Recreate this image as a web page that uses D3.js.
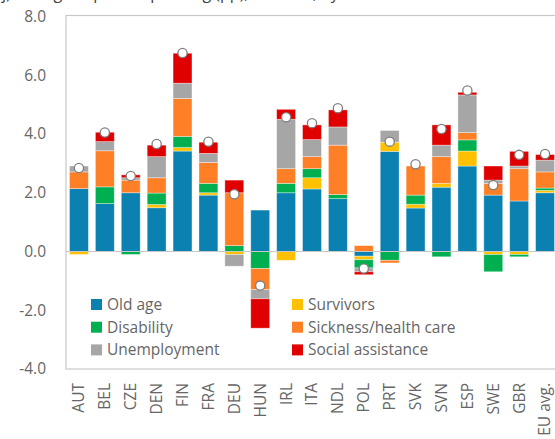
<!DOCTYPE html>
<html>
<head>
<meta charset="utf-8">
<script src="https://cdn.jsdelivr.net/npm/d3@7"></script>
<style>
  body { margin: 0; background: #fff; }
  svg { display: block; font-family: "Open Sans", sans-serif; }
</style>
</head>
<body>
<div id="container"></div>
<script>
const width = 555,
  height = 439,
  margin = {top: 16.5, bottom: 70, left: 66, right: -3};

// categories
const countries = ["AUT","BEL","CZE","DEN","FIN","FRA","DEU","HUN","IRL","ITA","NDL","POL","PRT","SVK","SVN","ESP","SWE","GBR","EU avg."];

// series values, percentage points
const oldAge     = [2.14, 1.63, 2.00, 1.49, 3.42, 1.92, 0.00, 1.41, 2.00, 2.13, 1.80, -0.16, 3.41, 1.48, 2.19, 2.91, 1.92, 1.72, 2.00];
const survivors  = [-0.10, 0.00, 0.00, 0.11, 0.12, 0.08, -0.10, 0.00, -0.30, 0.38, 0.00, -0.12, 0.31, 0.13, 0.13, 0.51, -0.10, -0.10, 0.08];
const disability = [0.00, 0.57, -0.10, 0.39, 0.38, 0.32, 0.20, -0.58, 0.32, 0.31, 0.14, -0.28, -0.30, 0.31, -0.18, 0.38, -0.59, -0.08, 0.08];
const sickness   = [0.57, 1.23, 0.43, 0.52, 1.29, 0.71, 1.80, -0.72, 0.50, 0.41, 1.68, 0.20, -0.09, 0.99, 0.91, 0.25, 0.40, 1.10, 0.55];
const unemploy   = [0.20, 0.31, 0.08, 0.72, 0.52, 0.31, -0.40, -0.31, 1.68, 0.58, 0.62, -0.13, 0.40, 0.00, 0.39, 1.28, 0.11, 0.09, 0.40];
const socialAss  = [0.00, 0.32, 0.10, 0.39, 1.02, 0.38, 0.43, -1.00, 0.34, 0.50, 0.58, -0.10, 0.00, 0.00, 0.69, 0.09, 0.48, 0.50, 0.19];
// total change (white markers)
const totals     = [2.84, 4.05, 2.57, 3.66, 6.76, 3.74, 1.95, -1.16, 4.57, 4.37, 4.88, -0.58, 3.74, 2.97, 4.17, 5.48, 2.26, 3.29, 3.32];

const seriesNames = ["Old age","Survivors","Disability","Sickness/health care","Unemployment","Social assistance"];
const seriesColors = ["#0b81b1","#ffc000","#00b050","#ff7f27","#a6a6a6","#e00000"];
const yTicks = [-4, -2, 0, 2, 4, 6, 8];

const table = countries.map((c, i) => ({
  country: c,
  "Old age": oldAge[i],
  "Survivors": survivors[i],
  "Disability": disability[i],
  "Sickness/health care": sickness[i],
  "Unemployment": unemploy[i],
  "Social assistance": socialAss[i],
  total: totals[i]
}));

const stacked = d3.stack()
  .keys(seriesNames)
  .offset(d3.stackOffsetDiverging)(table);

const xScale = d3.scaleBand()
  .domain(countries)
  .range([margin.left, width - margin.right])
  .paddingInner(0.27)
  .paddingOuter(0.135);

const yScale = d3.scaleLinear()
  .domain([-4, 8])
  .range([height - margin.bottom, margin.top]);

const colorScale = d3.scaleOrdinal()
  .domain(seriesNames)
  .range(seriesColors);

const svg = d3.select("#container")
  .append("svg")
  .attr("width", width)
  .attr("height", height);

// title, cut off at the top as in the source
svg.append("text")
  .attr("x", 2)
  .attr("y", -1)
  .attr("font-size", 16)
  .attr("fill", "#404040")
  .text("j) Change in public spending (pp), 2000-15, by function");

// plot frame
svg.append("rect")
  .attr("x", margin.left)
  .attr("y", margin.top - 1)
  .attr("width", width - margin.right - margin.left)
  .attr("height", yScale(-4) - margin.top + 1)
  .attr("fill", "none")
  .attr("stroke", "#c8c8c8")
  .attr("stroke-width", 1.2);

// y labels, plain hyphen for negatives
const yAxis = d3.axisLeft(yScale)
  .tickValues(yTicks)
  .tickFormat(d => d.toFixed(1))
  .tickSize(0)
  .tickPadding(20);

svg.append("g")
  .attr("transform", `translate(${margin.left},0)`)
  .call(yAxis)
  .call(g => g.select(".domain").remove())
  .call(g => g.selectAll("text")
    .attr("font-size", 15.5)
    .attr("font-family", "Open Sans, sans-serif")
    .attr("fill", "#666666"));

// x labels, rotated
const xAxis = d3.axisBottom(xScale).tickSize(0).tickPadding(0);
svg.append("g")
  .attr("transform", `translate(0,${yScale(-4) + 14})`)
  .call(xAxis)
  .call(g => g.select(".domain").remove())
  .call(g => g.selectAll("text")
    .attr("font-size", 15.5)
    .attr("font-family", "Open Sans, sans-serif")
    .attr("fill", "#666666")
    .attr("text-anchor", "end")
    .attr("dy", "0.35em")
    .attr("transform", "rotate(-90)")
    .attr("x", 0)
    .attr("y", 0));

// bars
svg.append("g")
  .selectAll("g")
  .data(stacked)
  .join("g")
  .attr("fill", d => colorScale(d.key))
  .selectAll("rect")
  .data(d => d)
  .join("rect")
  .attr("x", d => xScale(d.data.country))
  .attr("width", xScale.bandwidth())
  .attr("y", d => yScale(Math.max(d[0], d[1])))
  .attr("height", d => Math.abs(yScale(d[0]) - yScale(d[1])))
  .attr("stroke", "#ffffff")
  .attr("stroke-opacity", 0.45)
  .attr("stroke-width", 0.8);

// zero line
svg.append("line")
  .attr("x1", margin.left)
  .attr("x2", width)
  .attr("y1", yScale(0))
  .attr("y2", yScale(0))
  .attr("stroke", "#c8c8c8")
  .attr("stroke-width", 1.2);

// total markers
svg.append("g")
  .selectAll("circle")
  .data(table)
  .join("circle")
  .attr("cx", d => xScale(d.country) + xScale.bandwidth() / 2)
  .attr("cy", d => yScale(d.total))
  .attr("r", 4.6)
  .attr("fill", "#ffffff")
  .attr("stroke", "#7f7f7f")
  .attr("stroke-width", 1.3);

// legend, two columns
const legend = svg.append("g")
  .selectAll("g")
  .data(seriesNames)
  .join("g")
  .attr("transform", (d, i) => `translate(${i % 2 === 0 ? 91 : 292},${299 + Math.floor(i / 2) * 22.7})`);

legend.append("rect")
  .attr("width", 11)
  .attr("height", 11)
  .attr("fill", d => colorScale(d));

legend.append("text")
  .attr("x", 16)
  .attr("y", 5.5)
  .attr("dy", "0.35em")
  .attr("font-size", 15.5)
  .attr("fill", "#666666")
  .text(d => d);
</script>
</body>
</html>
